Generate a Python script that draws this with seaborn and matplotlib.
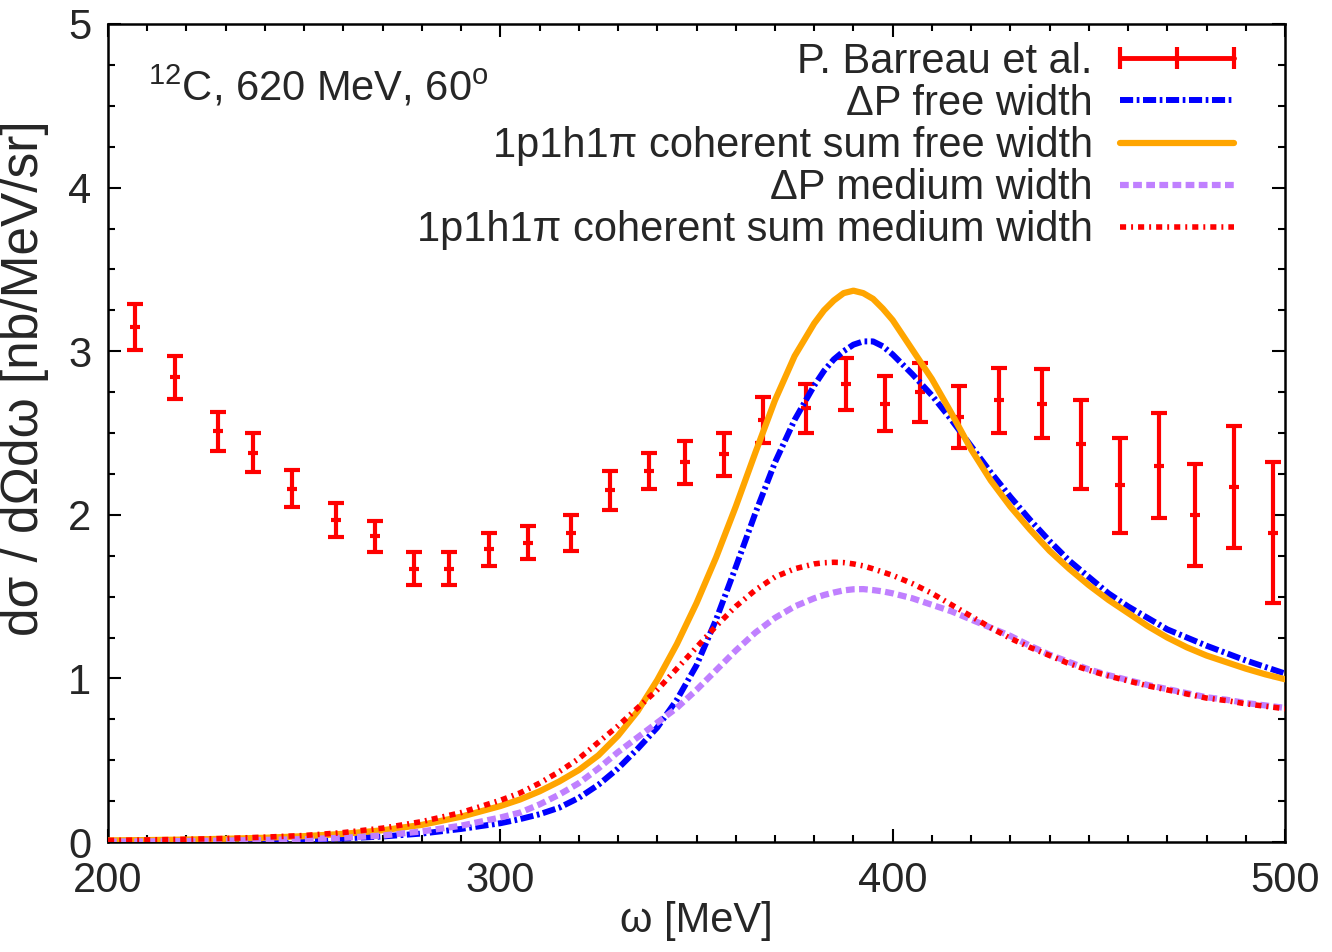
import pandas as pd
import matplotlib
matplotlib.use('Agg')
import matplotlib.pyplot as plt
from matplotlib.lines import Line2D
from matplotlib.legend_handler import HandlerLine2D
from matplotlib.ticker import MultipleLocator
import seaborn as sns

# P. Barreau et al. data points
data_omega = [207, 217, 228, 237, 247, 258, 268, 278, 287, 297,
              307, 318, 328, 338, 347, 357, 367, 378, 388, 398,
              407, 417, 427, 438, 448, 458, 468, 477, 487, 497]
data_xs = [3.15, 2.84, 2.51, 2.38, 2.16, 1.97, 1.87, 1.67, 1.67, 1.79,
           1.83, 1.89, 2.15, 2.27, 2.32, 2.37, 2.58, 2.65, 2.80, 2.68,
           2.75, 2.60, 2.70, 2.68, 2.43, 2.18, 2.30, 2.00, 2.17, 1.89]
data_err = [0.14, 0.13, 0.12, 0.12, 0.115, 0.105, 0.095, 0.10, 0.10, 0.10,
            0.10, 0.11, 0.12, 0.11, 0.13, 0.13, 0.14, 0.15, 0.16, 0.17,
            0.18, 0.19, 0.20, 0.21, 0.27, 0.29, 0.32, 0.31, 0.37, 0.43]

# model curves
omega = [200, 210, 220, 230, 240, 250, 260, 270, 280, 290,
         300, 305, 310, 315, 320, 325, 330, 335, 340, 345,
         350, 355, 360, 365, 370, 375, 380, 382.5, 385, 387.5,
         390, 392.5, 395, 397.5, 400, 405, 410, 415, 420, 425,
         430, 435, 440, 445, 450, 455, 460, 465, 470, 475,
         480, 485, 490, 495, 500]
delta_free = [0.002, 0.003, 0.005, 0.007, 0.010, 0.015, 0.022, 0.034, 0.052, 0.080,
              0.115, 0.14, 0.17, 0.21, 0.27, 0.35, 0.45, 0.57, 0.70, 0.87,
              1.08, 1.36, 1.68, 2.01, 2.32, 2.58, 2.79, 2.88, 2.95, 3.00,
              3.04, 3.06, 3.06, 3.03, 2.98, 2.86, 2.73, 2.58, 2.42, 2.26,
              2.11, 1.97, 1.84, 1.72, 1.62, 1.52, 1.44, 1.37, 1.30, 1.25,
              1.20, 1.155, 1.11, 1.07, 1.03]
coh_free = [0.010, 0.012, 0.015, 0.020, 0.026, 0.036, 0.050, 0.072, 0.105, 0.155,
            0.22, 0.26, 0.31, 0.37, 0.44, 0.53, 0.65, 0.80, 0.99, 1.21,
            1.46, 1.74, 2.05, 2.38, 2.70, 2.97, 3.17, 3.25, 3.31, 3.355,
            3.37, 3.355, 3.32, 3.26, 3.19, 3.01, 2.83, 2.62, 2.40, 2.21,
            2.05, 1.91, 1.78, 1.67, 1.57, 1.48, 1.40, 1.32, 1.25, 1.19,
            1.14, 1.10, 1.06, 1.025, 0.995]
delta_med = [0.003, 0.004, 0.006, 0.009, 0.013, 0.018, 0.026, 0.040, 0.065, 0.10,
             0.15, 0.18, 0.23, 0.29, 0.36, 0.45, 0.55, 0.64, 0.73, 0.82,
             0.93, 1.05, 1.17, 1.28, 1.37, 1.44, 1.49, 1.51, 1.525, 1.538,
             1.545, 1.546, 1.54, 1.532, 1.52, 1.49, 1.45, 1.41, 1.36, 1.31,
             1.26, 1.20, 1.145, 1.10, 1.055, 1.02, 0.99, 0.96, 0.935, 0.91,
             0.885, 0.87, 0.85, 0.835, 0.82]
coh_med = [0.010, 0.013, 0.017, 0.022, 0.030, 0.040, 0.058, 0.085, 0.125, 0.18,
           0.255, 0.30, 0.36, 0.43, 0.51, 0.61, 0.71, 0.82, 0.93, 1.06,
           1.19, 1.32, 1.44, 1.54, 1.62, 1.67, 1.70, 1.707, 1.71, 1.708,
           1.70, 1.688, 1.67, 1.65, 1.63, 1.58, 1.52, 1.45, 1.38, 1.31,
           1.245, 1.19, 1.14, 1.09, 1.05, 1.015, 0.985, 0.955, 0.93, 0.905,
           0.88, 0.865, 0.845, 0.83, 0.815]

labels = ['P. Barreau et al.',
          '\u0394P free width',
          '1p1h1\u03c0 coherent sum free width',
          '\u0394P medium width',
          '1p1h1\u03c0 coherent sum medium width']

sns.set_theme(style='ticks')
plt.rcParams['font.family'] = ['Liberation Sans', 'DejaVu Sans']
plt.rcParams['mathtext.fontset'] = 'custom'
plt.rcParams['mathtext.rm'] = 'Liberation Sans'
plt.rcParams['mathtext.it'] = 'Liberation Sans'

df = pd.DataFrame({'omega': omega, 'delta_free': delta_free, 'coh_free': coh_free,
                   'delta_med': delta_med, 'coh_med': coh_med})

fig, ax = plt.subplots(figsize=(13.32, 9.52), dpi=100)
fig.subplots_adjust(left=0.0811, right=0.9647, top=0.9748, bottom=0.1155)

ax.errorbar(data_omega, data_xs, yerr=data_err, fmt='_', color='#ff0000',
            ms=7, mew=3, elinewidth=3, capsize=5.5, capthick=3, zorder=2)

dash_free = (0, (2.2, 0.6, 0.45, 0.6))
dash_med = (0, (1.4, 0.7))
dash_cmed = (0, (1.1, 0.9, 0.35, 0.9))

sns.lineplot(data=df, x='omega', y='delta_free', ax=ax, color='#0000ff', lw=4.3,
             linestyle=dash_free, zorder=3)
sns.lineplot(data=df, x='omega', y='coh_free', ax=ax, color='#ffa500', lw=4.5,
             linestyle='-', zorder=4)
sns.lineplot(data=df, x='omega', y='delta_med', ax=ax, color='#c080ff', lw=4.5,
             linestyle=dash_med, zorder=5)
sns.lineplot(data=df, x='omega', y='coh_med', ax=ax, color='#ff0000', lw=4.0,
             linestyle=dash_cmed, zorder=6)

# legend in gnuplot style: text right-aligned, sample on the right
h_data = Line2D([0], [0], color='#ff0000', lw=3.5, marker='|', ms=16, mew=3)
h_df = Line2D([0], [0], color='#0000ff', lw=4.3, linestyle=dash_free)
h_cf = Line2D([0], [0], color='#ffa500', lw=4.5)
h_dm = Line2D([0], [0], color='#c080ff', lw=4.5, linestyle=dash_med)
h_cm = Line2D([0], [0], color='#ff0000', lw=4.0, linestyle=dash_cmed)
ax.legend([h_data, h_df, h_cf, h_dm, h_cm], labels, loc='upper right',
          bbox_to_anchor=(0.957, 0.978), markerfirst=False, frameon=False,
          fontsize=30, handlelength=2.75, handletextpad=0.65, labelspacing=0.05,
          borderpad=0, borderaxespad=0,
          handler_map={h_data: HandlerLine2D(numpoints=3, marker_pad=0)})

ax.text(0.034, 0.907, r'$^{12}$C, 620 MeV, 60$^{\rm o}$', transform=ax.transAxes,
        fontsize=30, ha='left', va='baseline')

ax.set_xlim(200, 500)
ax.set_ylim(0, 5)
ax.xaxis.set_major_locator(MultipleLocator(100))
ax.xaxis.set_minor_locator(MultipleLocator(10))
ax.yaxis.set_major_locator(MultipleLocator(1))
ax.yaxis.set_minor_locator(MultipleLocator(0.25))
ax.tick_params(which='both', direction='in', top=True, right=True, width=1.5,
               color='black', labelsize=30)
ax.tick_params(which='major', length=9.4)
ax.tick_params(which='minor', length=4.7)
ax.tick_params(axis='y', pad=12)
ax.tick_params(axis='x', pad=14)
for sp in ax.spines.values():
    sp.set_linewidth(1.8)
    sp.set_color('black')

ax.set_xlabel('\u03c9 [MeV]', fontsize=30)
ax.set_ylabel('d\u03c3 / d\u03a9d\u03c9 [nb/MeV/sr]', fontsize=37)
ax.xaxis.set_label_coords(0.5, -0.072)
ax.yaxis.set_label_coords(-0.05, 0.567)

fig.savefig('out.png', dpi=100)
